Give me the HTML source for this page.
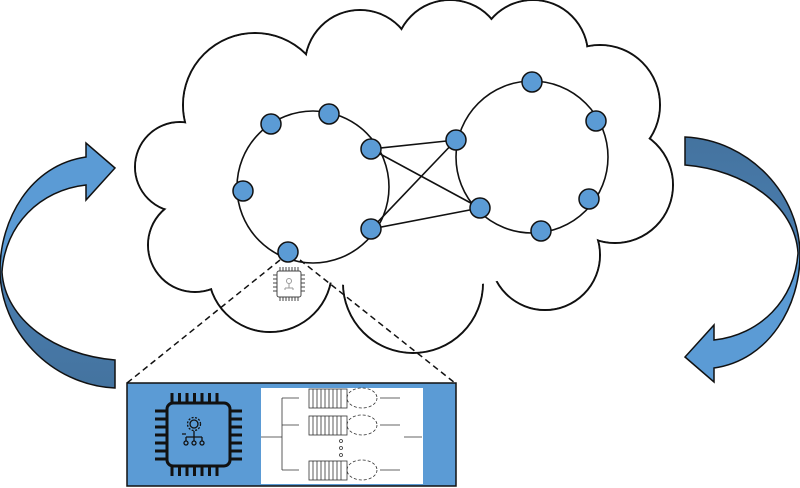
<!DOCTYPE html>
<html><head><meta charset="utf-8"><style>html,body{margin:0;padding:0;background:#fff}svg{display:block}</style></head>
<body>
<svg width="800" height="488" viewBox="0 0 800 488" xmlns="http://www.w3.org/2000/svg">
<defs>
<linearGradient id="g1" x1="0" y1="0" x2="0" y2="1">
<stop offset="0" stop-color="#5b9bd5"/><stop offset="0.5" stop-color="#5b9bd5"/><stop offset="0.52" stop-color="#4a7eb0"/><stop offset="1" stop-color="#44739f"/>
</linearGradient>
<g id="arrow">
<path d="M86,157 L86,143 L115,168 L86,200 L86,185 C40,190 5,225 2,272 C5,320 55,355 115,360 L115,388 C50,385 0,330 0,270 C0,220 30,165 86,157 Z" fill="url(#g1)" stroke="#111" stroke-width="1.5"/>
</g>
</defs>
<use href="#arrow"/>
<use href="#arrow" transform="rotate(180 400 262.5)"/>
<!-- cloud -->
<g stroke="#111" stroke-width="2" fill="#fff">
<circle cx="180" cy="167" r="45"/><circle cx="255" cy="105" r="72"/><circle cx="360" cy="65" r="55"/>
<circle cx="450" cy="55" r="55"/><circle cx="533" cy="55" r="55"/><circle cx="600" cy="105" r="60"/>
<circle cx="615" cy="185" r="58"/><circle cx="545" cy="255" r="55"/><circle cx="413" cy="283" r="70"/>
<circle cx="270" cy="270" r="62"/><circle cx="195" cy="245" r="47"/>
</g>
<g fill="#fff">
<circle cx="180" cy="167" r="44"/><circle cx="255" cy="105" r="71"/><circle cx="360" cy="65" r="54"/>
<circle cx="450" cy="55" r="54"/><circle cx="533" cy="55" r="54"/><circle cx="600" cy="105" r="59"/>
<circle cx="615" cy="185" r="57"/><circle cx="545" cy="255" r="54"/><circle cx="413" cy="283" r="69"/>
<circle cx="270" cy="270" r="61"/><circle cx="195" cy="245" r="46"/>
<ellipse cx="410" cy="180" rx="220" ry="110"/>
</g>
<!-- rings -->
<g fill="none" stroke="#111" stroke-width="1.6">
<circle cx="313" cy="187" r="76"/><circle cx="532" cy="157" r="76"/>
<line x1="371" y1="149" x2="456" y2="140"/><line x1="371" y1="149" x2="480" y2="208"/>
<line x1="371" y1="229" x2="456" y2="140"/><line x1="371" y1="229" x2="480" y2="208"/>
</g>
<g stroke="#111" stroke-width="1.5" stroke-dasharray="6,4">
<line x1="280" y1="260" x2="127" y2="383"/><line x1="300" y1="260" x2="455" y2="383"/>
</g>
<g fill="#5b9bd5" stroke="#111" stroke-width="1.5">
<circle cx="271" cy="124" r="10"/><circle cx="329" cy="114" r="10"/><circle cx="371" cy="149" r="10"/>
<circle cx="243" cy="191" r="10"/><circle cx="371" cy="229" r="10"/><circle cx="288" cy="252" r="10"/>
<circle cx="532" cy="82" r="10"/><circle cx="596" cy="121" r="10"/><circle cx="456" cy="140" r="10"/>
<circle cx="589" cy="199" r="10"/><circle cx="480" cy="208" r="10"/><circle cx="541" cy="231" r="10"/>
</g>
<!-- small chip -->
<g stroke="#444" stroke-width="1" fill="none">
<rect x="277" y="271" width="24" height="26" rx="2" fill="#fff"/>
<path d="M280,267v4M283,267v4M286,267v4M289,267v4M292,267v4M295,267v4M298,267v4M280,297v4M283,297v4M286,297v4M289,297v4M292,297v4M295,297v4M298,297v4M273,275h4M273,279h4M273,283h4M273,287h4M273,291h4M301,275h4M301,279h4M301,283h4M301,287h4M301,291h4"/>
<circle cx="289" cy="281" r="2.5" stroke="#999"/><path d="M289,284v4M285,288h8M285,288v2M293,288v2" stroke="#999"/>
</g>
<!-- bottom box -->
<rect x="127" y="383" width="329" height="103" fill="#5b9bd5" stroke="#111" stroke-width="1.5"/>
<g stroke="#111" stroke-width="3" fill="none">
<path d="M172,393v10M179.5,393v10M187,393v10M194.5,393v10M202,393v10M209.5,393v10M217,393v10M172,466v10M179.5,466v10M187,466v10M194.5,466v10M202,466v10M209.5,466v10M217,466v10M155,411h12M155,419h12M155,427h12M155,435h12M155,443h12M155,451h12M155,459h12M230,411h12M230,419h12M230,427h12M230,435h12M230,443h12M230,451h12M230,459h12"/>
<rect x="167" y="403" width="63" height="63" rx="6"/>
</g>
<g stroke="#111" stroke-width="1.3" fill="none">
<circle cx="194" cy="424" r="4"/><circle cx="194" cy="424" r="6.5" stroke-dasharray="2,1.5"/>
<path d="M194,431v6M186,437h16M186,437v4M194,437v4M202,437v4M182,434h4"/>
<circle cx="186" cy="443" r="2"/><circle cx="194" cy="443" r="2"/><circle cx="202" cy="443" r="2"/>
</g>
<rect x="261" y="388" width="162" height="96" fill="#fff"/>
<g stroke="#333" stroke-width="0.8" fill="none">
<path d="M261,437h21M282,398v72M282,398h17M282,425h17M282,470h17M380,398h20M380,425h20M380,470h20M404,437h18"/>
<g id="q"><rect x="309" y="389" width="38" height="19"/><path d="M313,389v19M317,389v19M321,389v19M325,389v19M329,389v19M333,389v19M337,389v19M341,389v19"/><ellipse cx="362" cy="398" rx="15" ry="10" stroke-dasharray="3,2"/></g>
<use href="#q" transform="translate(0,27)"/>
<use href="#q" transform="translate(0,72)"/>
<circle cx="341" cy="441" r="1.5"/><circle cx="341" cy="448" r="1.5"/><circle cx="341" cy="455" r="1.5"/>
</g>
</svg>
</body></html>
